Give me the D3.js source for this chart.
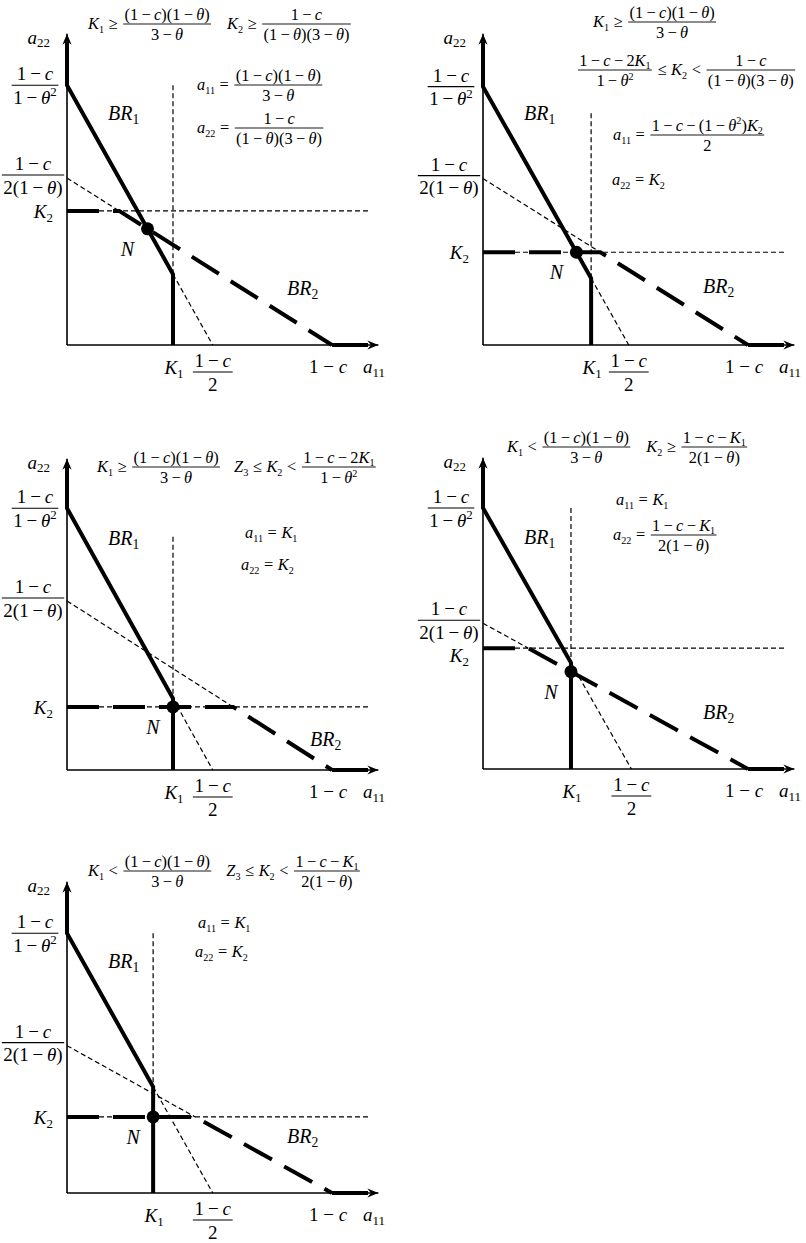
<!DOCTYPE html>
<html>
<head>
<meta charset="utf-8">
<script src="https://cdn.jsdelivr.net/npm/d3@7"></script>
<style>
  html, body { margin: 0; padding: 0; background: #fff; }
  svg { display: block; }
  text { font-family: "Liberation Serif", "Times New Roman", serif; fill: #000; }
</style>
</head>
<body>
<svg id="chart" width="806" height="1243"></svg>
<script>
// All quantities are measured in units of (1 − c) along a11 and a22.
const k1Values   = [0.400, 0.408, 0.400, 0.332, 0.325];   // capacity K1
const k2Values   = [0.506, 0.350, 0.238, 0.456, 0.287];   // capacity K2
const br1Top     = [0.980, 0.975, 0.988, 0.985, 0.980];   // (1−c)/(1−θ²)
const br1Root    = [0.550, 0.550, 0.550, 0.560, 0.550];   // (1−c)/2
const br2Top     = [0.630, 0.628, 0.638, 0.550, 0.556];   // (1−c)/(2(1−θ))
const br2Root    = 1.0;                                   // 1−c
const k1GuideTop = [0.980, 0.875, 0.880, 0.985, 0.980];   // top of the dotted a11 = K1 guide
const k2GuideEnd = 1.145;                                 // right end of the dotted a22 = K2 guide
const axisMax    = 1.175;
const br1AxisMax = 1.143;                                  // BR1 runs up the a22 axis to here
const br2AxisMax = 1.136;                                  // BR2 runs along the a11 axis to here

// Regime conditions above each diagram and the resulting equilibrium.
const headerLines = [
  [["K_1≥", {n: "(1−c)(1−θ)", d: "3−θ"}, 15, "K_2≥", {n: "1−c", d: "(1−θ)(3−θ)"}]],
  [["K_1≥", {n: "(1−c)(1−θ)", d: "3−θ"}],
   [{n: "1−c−2K_1", d: "1−θ^2"}, "≤K_2<", {n: "1−c", d: "(1−θ)(3−θ)"}]],
  [["K_1≥", {n: "(1−c)(1−θ)", d: "3−θ"}, 13, "Z_3≤K_2<", {n: "1−c−2K_1", d: "1−θ^2"}]],
  [["K_1<", {n: "(1−c)(1−θ)", d: "3−θ"}, 15, "K_2≥", {n: "1−c−K_1", d: "2(1−θ)"}]],
  [["K_1<", {n: "(1−c)(1−θ)", d: "3−θ"}, 14, "Z_3≤K_2<", {n: "1−c−K_1", d: "2(1−θ)"}]]
];
const solutionLines = [
  [["a_{11}=", {n: "(1−c)(1−θ)", d: "3−θ"}], ["a_{22}=", {n: "1−c", d: "(1−θ)(3−θ)"}]],
  [["a_{11}=", {n: "1−c−(1−θ^2)K_2", d: "2"}], ["a_{22}=K_2"]],
  [["a_{11}=K_1"], ["a_{22}=K_2"]],
  [["a_{11}=K_1"], ["a_{22}=", {n: "1−c−K_1", d: "2(1−θ)"}]],
  [["a_{11}=K_1"], ["a_{22}=K_2"]]
];

// ---- page layout ----
const unit = 265;
const panelOrigins = [[67, 345], [483, 345], [67, 770], [483, 769], [67, 1193]];
const headerPos   = [[[88, 24]], [[593, 22], [577, 70]], [[97, 467]], [[507, 447]], [[88, 871]]];
const solutionPos = [[[197, 85], [197, 128]], [[613, 135], [612, 180]], [[245, 533], [241, 565]],
                     [[616, 500], [613, 535]], [[198, 923], [195, 952]]];
const br2LabelOffset = [[220, -57], [220, -59], [243, -31], [220, -57], [220, -57]];
const k2LabelDy = [7, 7, 7, 14, 7];

const FS_EQ = 16.4, FS_AXIS = 19, FS_LABEL = 20;
const OP_PAD = {"−": 0.2, "=": 0.28, "≥": 0.28, "≤": 0.28, "<": 0.28};

const svg = d3.select("#chart");

// Split a small math string into runs: letters italic, _x / _{..} subscripts, ^x superscripts.
function tokenize(str) {
  const runs = [];
  const push = (text, mode, italic, op) => {
    const last = runs[runs.length - 1];
    if (!op && last && !last.op && last.mode === mode && last.italic === italic) last.text += text;
    else runs.push({text, mode, italic, op});
  };
  let i = 0;
  while (i < str.length) {
    const ch = str[i];
    if (ch === "_" || ch === "^") {
      let content;
      if (str[i + 1] === "{") { const j = str.indexOf("}", i); content = str.slice(i + 2, j); i = j + 1; }
      else { content = str[i + 1]; i += 2; }
      push(content, ch === "_" ? "sub" : "sup", false, false);
      continue;
    }
    const italic = /[A-Za-zθ]/.test(ch);
    const isOp = OP_PAD[ch] !== undefined && str[i - 1] !== " " && str[i + 1] !== " ";
    push(ch, "base", italic, isOp ? ch : false);
    i++;
  }
  return runs;
}

function richText(parent, str, fs, x, y, anchor = "start") {
  const t = parent.append("text")
    .attr("x", x).attr("y", y).attr("font-size", fs)
    .attr("text-anchor", anchor).style("white-space", "pre");
  const small = fs >= 18 ? 0.68 : 0.62;
  let cur = 0, carry = 0;
  tokenize(str).forEach(r => {
    const target = r.mode === "sub" ? 0.2 * fs : r.mode === "sup" ? -0.4 * fs : 0;
    const ts = t.append("tspan").text(r.text).attr("font-style", r.italic ? "italic" : "normal");
    if (r.mode !== "base") ts.attr("font-size", small * fs);
    if (target !== cur) { ts.attr("dy", target - cur); cur = target; }
    const pad = r.op ? OP_PAD[r.op] * fs : 0;
    if (carry + pad) ts.attr("dx", carry + pad);
    carry = pad;
  });
  t.node().__trail = carry;
  return t;
}

function fraction(parent, num, den, cx, barY, fs) {
  const n = richText(parent, num, fs, cx, barY - 0.26 * fs, "middle");
  const d = richText(parent, den, fs, cx, barY + 0.98 * fs, "middle");
  const w = Math.max(n.node().getBBox().width, d.node().getBBox().width) + 0.16 * fs;
  parent.append("line")
    .attr("x1", cx - w / 2).attr("x2", cx + w / 2)
    .attr("y1", barY).attr("y2", barY)
    .attr("stroke", "#000").attr("stroke-width", fs >= 18 ? 1.1 : 0.9);
  return w;
}

function equation(parent, items, x, axisY, fs) {
  let cx = x;
  items.forEach(it => {
    if (typeof it === "number") { cx += it; return; }
    if (typeof it === "string") {
      const t = richText(parent, it, fs, cx, axisY + 0.32 * fs);
      const bb = t.node().getBBox();
      cx = bb.x + bb.width + t.node().__trail;
      return;
    }
    const g = parent.append("g");
    const w = fraction(g, it.n, it.d, 0, axisY, fs);
    g.attr("transform", `translate(${cx + w / 2 + 0.06 * fs},0)`);
    cx += w + 0.12 * fs;
  });
}

function arrowHead(parent, tx, ty, dir) {
  const L = 11, W = 4.6, back = 7.5;
  const pts = dir === "right"
    ? [[tx, ty], [tx - L, ty - W], [tx - back, ty], [tx - L, ty + W]]
    : [[tx, ty], [tx - W, ty + L], [tx, ty + back], [tx + W, ty + L]];
  parent.append("path").attr("d", "M" + pts.map(p => p.join(",")).join("L") + "Z").attr("fill", "#000");
}

panelOrigins.forEach(([ox, oy], i) => {
  const x = d3.scaleLinear().domain([0, 1]).range([ox, ox + unit]);
  const y = d3.scaleLinear().domain([0, 1]).range([oy, oy - unit]);
  const g = svg.append("g");
  const line = d3.line().x(d => x(d[0])).y(d => y(d[1]));

  const K1 = k1Values[i], K2 = k2Values[i];
  const A = br1Top[i], B = br1Root[i], C = br2Top[i];
  const br1 = a22 => Math.max(0, Math.min(K1, B * (1 - a22 / A)));
  const br2 = a11 => Math.max(0, Math.min(K2, C * (1 - a11 / br2Root)));
  const kinkY = A * (1 - K1 / B);
  const flatEnd = br2Root * (1 - K2 / C);

  // Nash equilibrium: fixed point of the two best responses
  let e1 = 0, e2 = 0;
  for (let k = 0; k < 300; k++) { e1 = br1(e2); e2 = br2(e1); }

  // thin dotted guides
  const guides = [
    [[K1, k1GuideTop[i]], [K1, 0]],
    [[0, K2], [k2GuideEnd, K2]],
    [[0, C], [flatEnd, K2]],
    [[K1, kinkY], [B, 0]]
  ];
  g.selectAll(".guide").data(guides).join("path")
    .attr("d", line).attr("fill", "none").attr("stroke", "#000")
    .attr("stroke-width", 1.2).attr("stroke-dasharray", "5,3");

  // axes
  g.append("path").attr("d", line([[0, 0], [axisMax, 0]]))
    .attr("stroke", "#000").attr("stroke-width", 1.6).attr("fill", "none");
  g.append("path").attr("d", line([[0, 0], [0, axisMax]]))
    .attr("stroke", "#000").attr("stroke-width", 1.6).attr("fill", "none");
  arrowHead(g, x(axisMax), y(0), "right");
  arrowHead(g, x(0), y(axisMax), "up");

  // BR1 (solid)
  g.append("path")
    .attr("d", line([[0, br1AxisMax], [0, A], [K1, kinkY], [K1, 0]]))
    .attr("fill", "none").attr("stroke", "#000").attr("stroke-width", 4)
    .attr("stroke-linejoin", "miter");

  // BR2 (long dashes, then solid along the a11 axis)
  g.append("path")
    .attr("d", line([[0, K2], [flatEnd, K2], [br2Root, 0]]))
    .attr("fill", "none").attr("stroke", "#000").attr("stroke-width", 4)
    .attr("stroke-dasharray", "32,14");
  g.append("path")
    .attr("d", line([[br2Root, 0], [br2AxisMax, 0]]))
    .attr("fill", "none").attr("stroke", "#000").attr("stroke-width", 4);

  // equilibrium point
  g.append("circle").attr("cx", x(e1)).attr("cy", y(e2)).attr("r", 6.5).attr("fill", "#000");
  richText(g, "N", FS_LABEL, x(e1) - 20, y(e2) + 27, "middle");

  // curve labels
  richText(g, "BR_1", FS_LABEL, ox + 41, oy - 225);
  richText(g, "BR_2", FS_LABEL, ox + br2LabelOffset[i][0], oy + br2LabelOffset[i][1] + 7);

  // a22 axis labels
  richText(g, "a_{22}", FS_AXIS, ox - 17, y(axisMax) + 10, "end");
  fraction(g, "1−c", "1−θ^2", ox - 32, y(A), FS_AXIS);
  fraction(g, "1−c", "2(1−θ)", ox - 34, y(C) - 3, FS_AXIS);
  richText(g, "K_2", FS_AXIS, ox - 14, y(K2) + k2LabelDy[i], "end");

  // a11 axis labels
  richText(g, "K_1", FS_AXIS, x(K1) + 1, oy + 29, "middle");
  fraction(g, "1−c", "2", x(B), oy + 27, FS_AXIS);
  richText(g, "1 − c", FS_AXIS, x(br2Root) - 4, oy + 28, "middle");
  richText(g, "a_{11}", FS_AXIS, ox + 296, oy + 28);

  // regime conditions and equilibrium values
  headerLines[i].forEach((items, j) => equation(g, items, headerPos[i][j][0], headerPos[i][j][1], FS_EQ));
  solutionLines[i].forEach((items, j) => equation(g, items, solutionPos[i][j][0], solutionPos[i][j][1], FS_EQ));
});
</script>
</body>
</html>
